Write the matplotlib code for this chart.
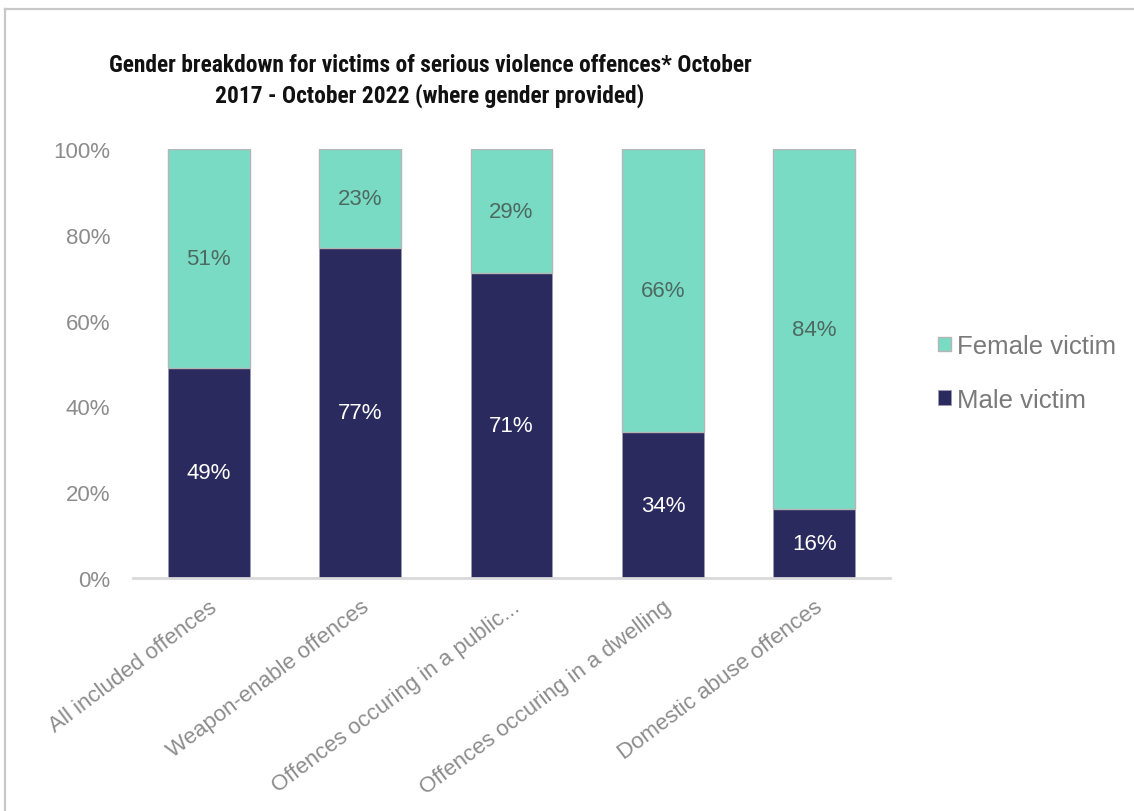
import matplotlib
matplotlib.use("Agg")
import matplotlib.pyplot as plt
from matplotlib.lines import Line2D
from matplotlib import font_manager
import numpy as np

categories = ["All included offences", "Weapon-enable offences",
              "Offences occuring in a public...", "Offences occuring in a dwelling",
              "Domestic abuse offences"]
male = [49, 77, 71, 34, 16]
female = [51, 23, 29, 66, 84]
yticks = [0, 20, 40, 60, 80, 100]
ytick_labels = ["0%", "20%", "40%", "60%", "80%", "100%"]
title = "Gender breakdown for victims of serious violence offences* October\n2017 - October 2022 (where gender provided)"

MALE_C = "#2b2a5e"
FEMALE_C = "#7adbc4"
GRAY = "#8c8c8c"

plt.rcParams['font.family'] = ['Liberation Sans', 'DejaVu Sans']

available = {f.name for f in font_manager.fontManager.ttflist}
title_family = "Liberation Sans"
for cand in ["Roboto Condensed", "Liberation Sans Narrow", "Open Sans Condensed", "Roboto"]:
    if cand in available:
        title_family = cand
        break

fig = plt.figure(figsize=(11.34, 8.12), dpi=100)
ax = fig.add_axes([133/1134, 1-579/812, (890-133)/1134, (579-150)/812])

x = np.arange(len(categories))
w = 0.54
bm = ax.bar(x, male, w, color=MALE_C, edgecolor="#9a9ab0", linewidth=0.6, label="Male victim", zorder=2)
bf = ax.bar(x, female, w, bottom=male, color=FEMALE_C, edgecolor="#b5b5b5", linewidth=1.0, label="Female victim", zorder=2)

for i in range(len(categories)):
    ax.text(x[i], male[i]/2, f"{male[i]}%", ha="center", va="center", color="white", fontsize=16)
    ax.text(x[i], male[i] + female[i]/2, f"{female[i]}%", ha="center", va="center", color="#4d6a62", fontsize=16)

ax.set_xlim(-0.5, len(categories)-0.5)
ax.set_ylim(0, 100)
ax.set_yticks(yticks)
ax.set_yticklabels(ytick_labels, color=GRAY, fontsize=16)
ax.set_xticks(x)
ax.set_xticklabels(categories, rotation=37, ha="right", rotation_mode="anchor", color=GRAY, fontsize=16)
ax.tick_params(axis="y", length=0, pad=16.5)
ax.tick_params(axis="x", length=0, pad=13)
for s in ["left", "right", "top"]:
    ax.spines[s].set_visible(False)
ax.spines["bottom"].set_color("#d9d9d9")
ax.spines["bottom"].set_linewidth(2)
ax.spines["bottom"].set_zorder(3)

# title, fitted to the reference width
t = fig.text(430/1134, 1-81/812, title, ha="center", va="center", fontsize=17,
             fontweight="bold", family=[title_family, "Liberation Sans"],
             color="#111111", linespacing=1.3)
fig.canvas.draw()
r = fig.canvas.get_renderer()
line1 = fig.text(0, 0, title.split("\n")[0], fontsize=17, fontweight="bold",
                 family=[title_family, "Liberation Sans"])
wpx = line1.get_window_extent(r).width
line1.remove()
t.set_fontsize(17 * 645 / wpx)

handles = [bf, bm]
leg = fig.legend(handles, ["Female victim", "Male victim"], loc="center left",
                 bbox_to_anchor=(915/1134, 1-374/812), frameon=False, fontsize=18.5,
                 handlelength=0.5, handleheight=0.5, handletextpad=0.25, labelspacing=1.15)
for txt in leg.get_texts():
    txt.set_color("#7a7a7a")

# frame lines
fig.add_artist(Line2D([5/1134, 5/1134], [0, 1-10/812], transform=fig.transFigure, color="#c8c8c8", lw=1.6))
fig.add_artist(Line2D([5/1134, 1], [1-10/812, 1-10/812], transform=fig.transFigure, color="#c8c8c8", lw=1.6))

fig.savefig("out.png", dpi=100)
